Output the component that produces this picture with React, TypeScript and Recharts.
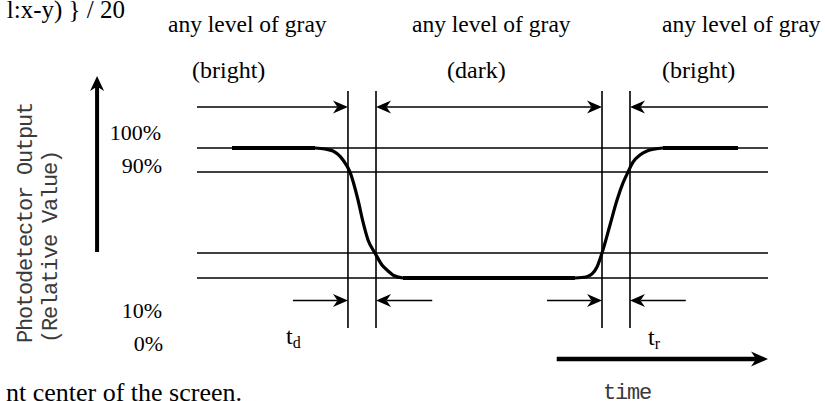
import { LineChart, Line, XAxis, YAxis, ReferenceLine } from "recharts";

// time axis: 0..100 across the drawn level lines; output: 0..100 (0% .. 100% levels)
const LEVELS = [0, 19.2, 81.5, 100]; // drawn positions of 0%, 10%, 90%, 100%
const LEVEL_LABELS = ["0%", "10%", "90%", "100%"];
const TD_MARKS = [26.44, 31.35];
const TR_MARKS = [70.93, 75.83];

const FALL_TIME = [20.67, 22.42, 23.82, 25.57, 26.8, 28.2, 29.07, 29.95, 31.17, 32.4, 33.45, 34.33, 36.08];
const FALL_OUTPUT = [100, 99.2, 97.7, 90.8, 81.5, 60, 43.1, 29.2, 19.2, 10, 5.4, 2.3, 0];

const RISE_TIME = [66.2, 68.13, 69.18, 70.05, 70.93, 72.33, 73.56, 74.61, 75.48, 76.36, 77.58, 78.81, 80.21, 81.61];
const RISE_OUTPUT = [0, 0.8, 3.1, 8.5, 19.2, 40.8, 60, 73.1, 81.5, 89.2, 94.6, 97.7, 99.2, 100];

const PLATEAU_TIME = [6.13, 20.67, 28, 36.08, 66.2, 74, 81.61, 94.75];
const PLATEAU_OUTPUT: (number | null)[] = [100, 100, null, 0, 0, null, 100, 100];

const TOP_TEXTS = ["any level of gray", "any level of gray", "any level of gray"];
const STATE_TEXTS = ["(bright)", "(dark)", "(bright)"];

const zip = (xs: number[], ys: (number | null)[]) => xs.map((x, i) => ({ x, y: ys[i] }));
const fallData = zip(FALL_TIME, FALL_OUTPUT);
const riseData = zip(RISE_TIME, RISE_OUTPUT);
const plateauData = zip(PLATEAU_TIME, PLATEAU_OUTPUT);

const serif = "'Liberation Serif', 'Times New Roman', serif";
const mono = "'Liberation Mono', 'DejaVu Sans Mono', monospace";

function head(tx: number, ty: number, dx: number, dy: number, len: number, half: number) {
    const nx = -dy;
    const ny = dx;
    const bx = tx - dx * len;
    const by = ty - dy * len;
    const mx = tx - dx * len * 0.7;
    const my = ty - dy * len * 0.7;
    return `M${tx},${ty} L${bx + nx * half},${by + ny * half} L${mx},${my} L${bx - nx * half},${by - ny * half} Z`;
}

function ArrowLine(p: any) {
    const { x1, y1, x2, y2, heads = "end", len = 15, half = 6.5, sw = 1.6 } = p;
    const L = Math.hypot(x2 - x1, y2 - y1) || 1;
    const dx = (x2 - x1) / L;
    const dy = (y2 - y1) / L;
    const sx = heads === "start" || heads === "both" ? x1 + dx * len * 0.7 : x1;
    const sy = heads === "start" || heads === "both" ? y1 + dy * len * 0.7 : y1;
    const ex = heads === "end" || heads === "both" ? x2 - dx * len * 0.7 : x2;
    const ey = heads === "end" || heads === "both" ? y2 - dy * len * 0.7 : y2;
    return (
        <g>
            <line x1={sx} y1={sy} x2={ex} y2={ey} stroke="#000" strokeWidth={sw} />
            {(heads === "end" || heads === "both") && <path d={head(x2, y2, dx, dy, len, half)} fill="#000" />}
            {(heads === "start" || heads === "both") && <path d={head(x1, y1, -dx, -dy, len, half)} fill="#000" />}
        </g>
    );
}

const arrow = (heads: string, len = 15, half = 6.5, sw = 1.6) => (p: any) =>
    <ArrowLine {...p} heads={heads} len={len} half={half} sw={sw} />;

const TOP_Y = 131.5;
const BOTTOM_Y = -17.3;
const MARK_Y = [-38.5, 143.8];

export default function App() {
    return (
        <div style={{ position: "absolute", left: 0, top: 0, width: 825, height: 401, background: "#fff", overflow: "hidden" }}>
            <LineChart width={825} height={401} margin={{ top: 148, right: 57, bottom: 123, left: 197 }}>
                <XAxis type="number" dataKey="x" domain={[0, 100]} hide />
                <YAxis type="number" domain={[0, 100]} hide />

                {LEVELS.map((lv) => (
                    <ReferenceLine key={lv} y={lv} stroke="#000" strokeWidth={1.6} />
                ))}
                {[...TD_MARKS, ...TR_MARKS].map((t) => (
                    <ReferenceLine
                        key={t}
                        segment={[{ x: t, y: MARK_Y[0] }, { x: t, y: MARK_Y[1] }]}
                        stroke="#000"
                        strokeWidth={1.6}
                        ifOverflow="visible"
                    />
                ))}

                {/* interval arrows above */}
                <ReferenceLine segment={[{ x: 0, y: TOP_Y }, { x: TD_MARKS[0], y: TOP_Y }]} ifOverflow="visible" shape={arrow("end")} />
                <ReferenceLine segment={[{ x: TD_MARKS[1], y: TOP_Y }, { x: TR_MARKS[0], y: TOP_Y }]} ifOverflow="visible" shape={arrow("both")} />
                <ReferenceLine segment={[{ x: 100, y: TOP_Y }, { x: TR_MARKS[1], y: TOP_Y }]} ifOverflow="visible" shape={arrow("end")} />

                {/* td / tr arrows below */}
                <ReferenceLine segment={[{ x: 16.8, y: BOTTOM_Y }, { x: TD_MARKS[0], y: BOTTOM_Y }]} ifOverflow="visible" shape={arrow("end")} />
                <ReferenceLine segment={[{ x: 41.2, y: BOTTOM_Y }, { x: TD_MARKS[1], y: BOTTOM_Y }]} ifOverflow="visible" shape={arrow("end")} />
                <ReferenceLine segment={[{ x: 61.3, y: BOTTOM_Y }, { x: TR_MARKS[0], y: BOTTOM_Y }]} ifOverflow="visible" shape={arrow("end")} />
                <ReferenceLine segment={[{ x: 85.6, y: BOTTOM_Y }, { x: TR_MARKS[1], y: BOTTOM_Y }]} ifOverflow="visible" shape={arrow("end")} />

                {/* axis arrows */}
                <ReferenceLine segment={[{ x: -17.5, y: 20 }, { x: -17.5, y: 155.4 }]} ifOverflow="visible" shape={arrow("end", 15, 7, 4)} />
                <ReferenceLine segment={[{ x: 63, y: -62.3 }, { x: 100, y: -62.3 }]} ifOverflow="visible" shape={arrow("end", 17, 7.5, 4.5)} />

                <Line data={plateauData} dataKey="y" type="linear" stroke="#000" strokeWidth={4.2} dot={false} connectNulls={false} isAnimationActive={false} />
                <Line data={fallData} dataKey="y" type="monotone" stroke="#000" strokeWidth={3.2} dot={false} isAnimationActive={false} />
                <Line data={riseData} dataKey="y" type="monotone" stroke="#000" strokeWidth={3.2} dot={false} isAnimationActive={false} />
            </LineChart>

            <svg width={825} height={401} style={{ position: "absolute", left: 0, top: 0, pointerEvents: "none" }}>
                <g fontFamily={serif} fill="#000">
                    <text x={125} y={18} fontSize={25} textAnchor="end">l:x-y) {"}"} / 20</text>
                    {TOP_TEXTS.map((t, i) => (
                        <text key={i} x={[168, 412, 662][i]} y={32} fontSize={23.5}>{t}</text>
                    ))}
                    {STATE_TEXTS.map((t, i) => (
                        <text key={i} x={[192, 447, 662][i]} y={78} fontSize={24}>{t}</text>
                    ))}
                    {LEVEL_LABELS.map((t, i) => (
                        <text key={t} x={[163, 162, 162, 161][i]} y={[351, 318, 173, 140][i]} fontSize={22} textAnchor="end">{t}</text>
                    ))}
                    <text x={286} y={344} fontSize={24}>t<tspan fontSize={16} dy={4}>d</tspan></text>
                    <text x={648} y={345} fontSize={24}>t<tspan fontSize={16} dy={4}>r</tspan></text>
                    <text x={242} y={401} fontSize={26} textAnchor="end">nt center of the screen.</text>
                </g>
                <g fontFamily={mono} fill="#3a3a3a" fontSize={22} letterSpacing={-1.2}>
                    <text transform="translate(32,223) rotate(-90)" textAnchor="middle">Photodetector Output</text>
                    <text transform="translate(57,247) rotate(-90)" textAnchor="middle">(Relative Value)</text>
                    <text x={627} y={399} textAnchor="middle">time</text>
                </g>
            </svg>
        </div>
    );
}
